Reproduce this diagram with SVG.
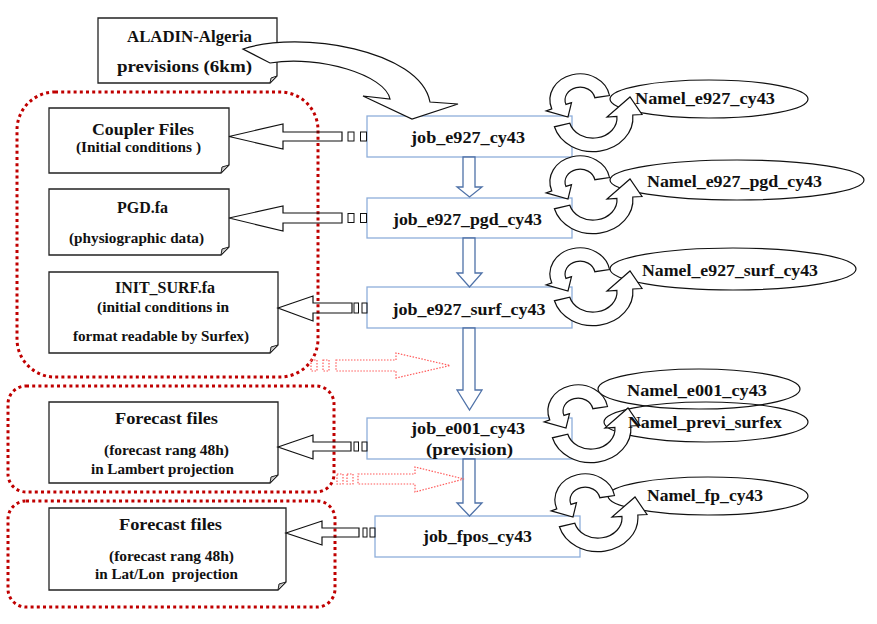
<svg xmlns="http://www.w3.org/2000/svg" xmlns:xlink="http://www.w3.org/1999/xlink" width="877" height="624" viewBox="0 0 877 624">
<style>
.doc{fill:#fff;stroke:#222;stroke-width:1.3}
.fold{fill:#c8c8c8;stroke:#222;stroke-width:1}
.job{fill:#fff;stroke:#8eaedb;stroke-width:1.3}
.t{font-family:"Liberation Serif","Times New Roman",serif;font-weight:bold;fill:#111;text-anchor:middle}
.s17{font-size:17px}.s16{font-size:16px}.s14{font-size:14px}
.red{fill:none;stroke:#c00000;stroke-width:3;stroke-dasharray:3 3.2}
.redarr{fill:none;stroke:#ff5a5a;stroke-width:1.2;stroke-dasharray:1.5 1.5}
.harr{fill:none;stroke:#111;stroke-width:1.2}
.sq{fill:none;stroke:#111;stroke-width:1}
.darr{fill:#fff;stroke:#4f72a8;stroke-width:1.3}
.cyc{fill:#fff;stroke:#111;stroke-width:1.2}
.ell{fill:#fff;stroke:#111;stroke-width:1.2}
.big{fill:#fff;stroke:#111;stroke-width:1.2}
</style>
<defs>
<g id="cycle">
<path class="cyc" d="M609.5,95.5 A30,26 0 1 0 551.8,108.9 L546.2,110.9 L568,117 L571.5,102.6 L565.9,104.4 A15,13 0 1 1 594.8,97.7 Z"/>
<path class="cyc" d="M554.4,126.8 A40,34 0 0 0 632.8,115 L642,114.5 L630,97 L607,117 L616.9,116.3 A24,20 0 0 1 569.8,123.2 Z"/>
</g>
</defs>
<rect width="877" height="624" fill="#fff"/>

<!-- red dotted groupings -->
<g id="group-init">
<rect class="red" x="17" y="92" width="301" height="285" rx="38" ry="38"/>
</g>
<g id="group-lambert">
<rect class="red" x="8" y="386" width="326" height="106" rx="18" ry="18"/>
</g>
<g id="group-latlon">
<rect class="red" x="8" y="501" width="327" height="106" rx="18" ry="18"/>
</g>

<!-- document nodes -->
<g id="aladin">
<path class="doc" d="M98,18 H277 V76 L270,83 H98 Z"/>
<path class="fold" d="M277,76 L270,83 L271,78 Z"/>
<text class="t s16" x="189.5" y="41.5" textLength="125" lengthAdjust="spacingAndGlyphs">ALADIN-Algeria</text>
<text class="t s16" x="184.5" y="72" textLength="135" lengthAdjust="spacingAndGlyphs">previsions (6km)</text>
</g>
<g id="coupler">
<path class="doc" d="M49,108 H229 V165 L221,173 H49 Z"/>
<path class="fold" d="M229,165 L221,173 L222,167 Z"/>
<text class="t s17" x="143" y="135" textLength="102" lengthAdjust="spacingAndGlyphs">Coupler Files</text>
<text class="t s14" x="138.5" y="151.5" textLength="125" lengthAdjust="spacingAndGlyphs">(Initial conditions )</text>
</g>
<g id="pgd">
<path class="doc" d="M49,189 H229 V247 L221,255 H49 Z"/>
<path class="fold" d="M229,247 L221,255 L222,249 Z"/>
<text class="t s17" x="142.5" y="212.5" textLength="51" lengthAdjust="spacingAndGlyphs">PGD.fa</text>
<text class="t s14" x="136.5" y="243" textLength="135" lengthAdjust="spacingAndGlyphs">(physiographic data)</text>
</g>
<g id="initsurf">
<path class="doc" d="M49,272 H278 V345 L270,353 H49 Z"/>
<path class="fold" d="M278,345 L270,353 L271,347 Z"/>
<text class="t s16" x="165" y="292.5" textLength="100" lengthAdjust="spacingAndGlyphs">INIT_SURF.fa</text>
<text class="t s14" x="163" y="311.5" textLength="132" lengthAdjust="spacingAndGlyphs">(initial conditions in</text>
<text class="t s14" x="161" y="341" textLength="176" lengthAdjust="spacingAndGlyphs">format readable by Surfex)</text>
</g>
<g id="forecast-lambert">
<path class="doc" d="M49,402 H278 V475 L270,483 H49 Z"/>
<path class="fold" d="M278,475 L270,483 L271,477 Z"/>
<text class="t s17" x="166.5" y="424" textLength="103" lengthAdjust="spacingAndGlyphs">Forecast files</text>
<text class="t s14" x="166.5" y="455" textLength="125" lengthAdjust="spacingAndGlyphs">(forecast rang 48h)</text>
<text class="t s14" x="162.5" y="474" textLength="143" lengthAdjust="spacingAndGlyphs">in Lambert projection</text>
</g>
<g id="forecast-latlon">
<path class="doc" d="M49,508 H286 V582 L278,590 H49 Z"/>
<path class="fold" d="M286,582 L278,590 L279,584 Z"/>
<text class="t s17" x="170.5" y="530" textLength="103" lengthAdjust="spacingAndGlyphs">Forecast files</text>
<text class="t s14" x="171.5" y="561" textLength="125" lengthAdjust="spacingAndGlyphs">(forecast rang 48h)</text>
<text class="t s14" x="166.5" y="579" textLength="143" lengthAdjust="spacingAndGlyphs" xml:space="preserve">in Lat/Lon  projection</text>
</g>

<!-- job nodes -->
<g id="job_e927_cy43">
<rect class="job" x="367" y="116" width="205" height="41"/>
<text class="t s17" x="468" y="143" textLength="114" lengthAdjust="spacingAndGlyphs">job_e927_cy43</text>
</g>
<g id="job_e927_pgd_cy43">
<rect class="job" x="367" y="198" width="205" height="40"/>
<text class="t s17" x="467.5" y="225" textLength="149" lengthAdjust="spacingAndGlyphs">job_e927_pgd_cy43</text>
</g>
<g id="job_e927_surf_cy43">
<rect class="job" x="367" y="287" width="205" height="41"/>
<text class="t s17" x="469" y="315" textLength="153" lengthAdjust="spacingAndGlyphs">job_e927_surf_cy43</text>
</g>
<g id="job_e001_cy43">
<rect class="job" x="367" y="418" width="205" height="41"/>
<text class="t s17" x="468" y="434" textLength="114" lengthAdjust="spacingAndGlyphs">job_e001_cy43</text>
<text class="t s17" x="469.5" y="455" textLength="87" lengthAdjust="spacingAndGlyphs">(prevision)</text>
</g>
<g id="job_fpos_cy43">
<rect class="job" x="375" y="516" width="205" height="41"/>
<text class="t s17" x="477.5" y="542" textLength="109" lengthAdjust="spacingAndGlyphs">job_fpos_cy43</text>
</g>

<!-- namelist nodes -->
<g id="namel_e927_cy43"><ellipse class="ell" cx="709" cy="99" rx="99" ry="19"/></g>
<g id="namel_e927_pgd_cy43"><ellipse class="ell" cx="737" cy="180" rx="127" ry="20"/></g>
<g id="namel_e927_surf_cy43"><ellipse class="ell" cx="733" cy="269" rx="123" ry="21"/></g>
<g id="namel_e001_cy43"><ellipse class="ell" cx="699" cy="389" rx="101" ry="20"/></g>
<g id="namel_previ_surfex"><ellipse class="ell" cx="706" cy="422" rx="102" ry="20" fill="none" style="fill:none"/></g>
<g id="namel_fp_cy43"><ellipse class="ell" cx="708" cy="496" rx="100" ry="19"/></g>

<!-- connectors -->
<g id="connectors">
<path class="big" d="M243,49 C300,30 420,50 430,102 L458,104 L412,119 L363,96 L390,99 C385,75 320,55 270,63 Z"/>
<path class="darr" d="M463,157 V187 H457 L469.5,197 L482,187 H475 V157 Z"/>
<path class="darr" d="M463,238 V273 H457 L469.5,287 L482,273 H475 V238 Z"/>
<path class="darr" d="M463,328 V390 H457 L469.5,410 L482,390 H475 V328 Z"/>
<path class="darr" d="M463,459 V503 H457 L469.5,516 L482,503 H475 V459 Z"/>

<path class="harr" d="M229,136.5 L283,124 V132 H342 V141 H283 V149 Z"/>
<rect class="sq" x="348" y="132" width="6" height="9"/><rect class="sq" x="360.5" y="132" width="6" height="9"/>
<path class="harr" d="M229,218 L283,206 V213 H342 V223 H283 V231 Z"/>
<rect class="sq" x="348" y="213.5" width="6" height="9"/><rect class="sq" x="360.5" y="213.5" width="6" height="9"/>
<path class="harr" d="M278,308 L313,296 V303 H352 V313 H313 V321 Z"/>
<rect class="sq" x="354" y="303" width="4.5" height="10"/><rect class="sq" x="362" y="303" width="5" height="10"/>
<path class="harr" d="M278,447 L313,435 V442 H351 V451 H313 V459 Z"/>
<rect class="sq" x="354" y="442" width="4.5" height="9"/><rect class="sq" x="362" y="442" width="5" height="9"/>
<path class="harr" d="M286,533 L322,521 V528 H359 V537 H322 V545 Z"/>
<rect class="sq" x="363" y="528" width="4" height="9"/><rect class="sq" x="370" y="528" width="5" height="9"/>

<path class="redarr" d="M336,360 H396 V353 L450,365.5 L396,378 V371 H336 Z"/>
<rect class="redarr" x="311" y="360" width="6" height="11"/><rect class="redarr" x="323" y="360" width="6" height="11"/>
<path class="redarr" d="M358,474 H415 V467 L464,479 L415,492 V484 H358 Z"/>
<rect class="redarr" x="337" y="474" width="6" height="10"/><rect class="redarr" x="347" y="474" width="6" height="10"/>

<use xlink:href="#cycle"/>
<use xlink:href="#cycle" transform="translate(0,82)"/>
<use xlink:href="#cycle" transform="translate(0,174)"/>
<use xlink:href="#cycle" transform="translate(-2,311)"/>
<use xlink:href="#cycle" transform="translate(5,400)"/>
</g>

<!-- namelist labels -->
<g id="namel-labels">
<text class="t s17" x="705" y="104" textLength="140" lengthAdjust="spacingAndGlyphs">Namel_e927_cy43</text>
<text class="t s17" x="734.5" y="186.5" textLength="175" lengthAdjust="spacingAndGlyphs">Namel_e927_pgd_cy43</text>
<text class="t s17" x="730" y="275.5" textLength="176" lengthAdjust="spacingAndGlyphs">Namel_e927_surf_cy43</text>
<text class="t s17" x="697" y="395.5" textLength="140" lengthAdjust="spacingAndGlyphs">Namel_e001_cy43</text>
<text class="t s17" x="705" y="428" textLength="154" lengthAdjust="spacingAndGlyphs">Namel_previ_surfex</text>
<text class="t s17" x="705" y="501" textLength="116" lengthAdjust="spacingAndGlyphs">Namel_fp_cy43</text>
</g>
</svg>
